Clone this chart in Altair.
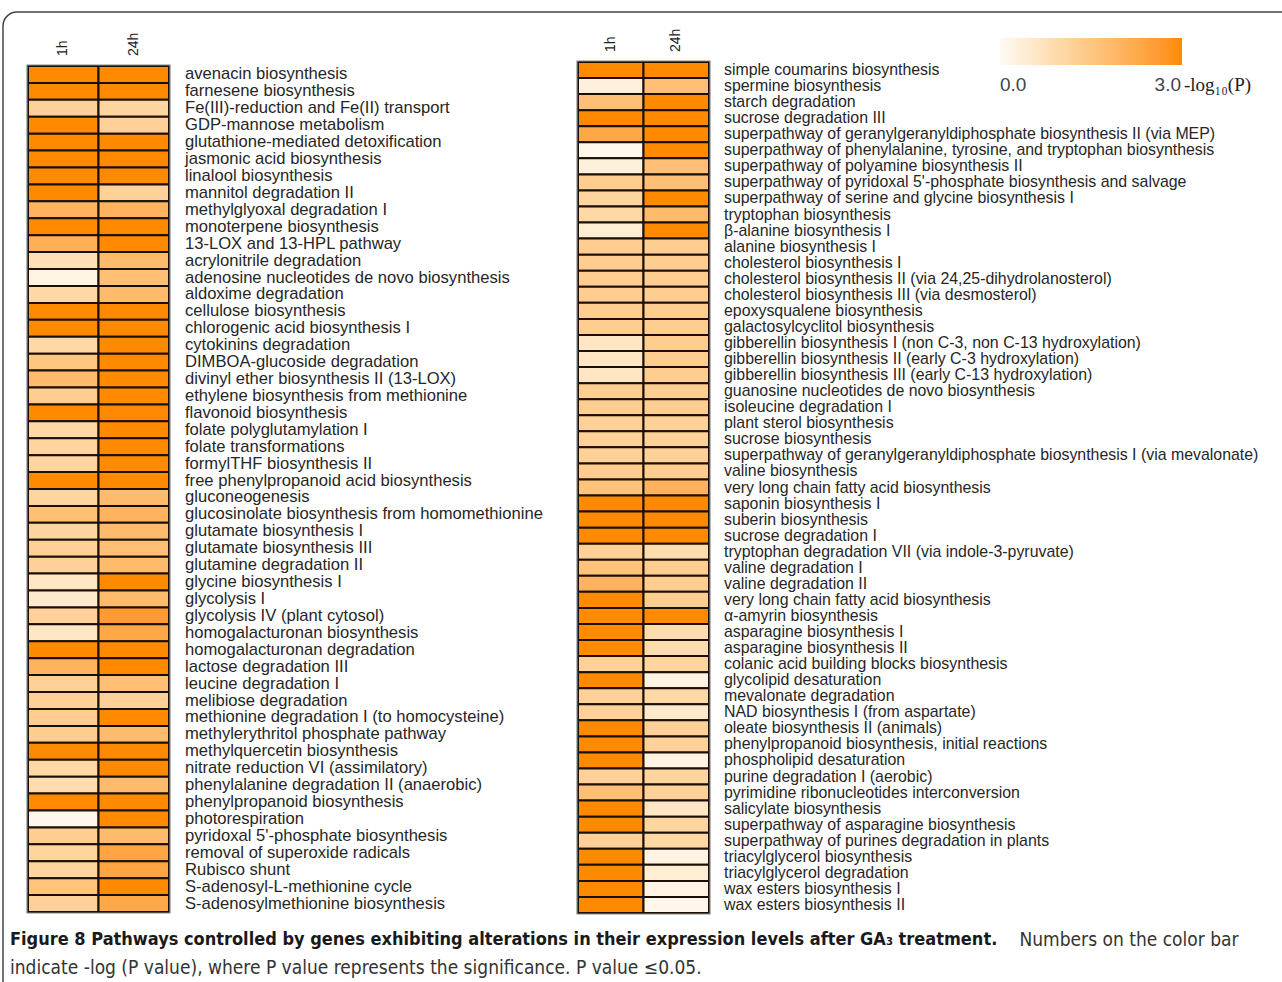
import altair as alt
import pandas as pd

# ---- pathway names and -log10(P) values (left panel) ----
left_pathways = [
    "avenacin biosynthesis", "farnesene biosynthesis", "Fe(III)-reduction and Fe(II) transport",
    "GDP-mannose metabolism", "glutathione-mediated detoxification", "jasmonic acid biosynthesis",
    "linalool biosynthesis", "mannitol degradation II", "methylglyoxal degradation I",
    "monoterpene biosynthesis", "13-LOX and 13-HPL pathway", "acrylonitrile degradation",
    "adenosine nucleotides de novo biosynthesis", "aldoxime degradation", "cellulose biosynthesis",
    "chlorogenic acid biosynthesis I", "cytokinins degradation", "DIMBOA-glucoside degradation",
    "divinyl ether biosynthesis II (13-LOX)", "ethylene biosynthesis from methionine",
    "flavonoid biosynthesis", "folate polyglutamylation I", "folate transformations",
    "formylTHF biosynthesis II", "free phenylpropanoid acid biosynthesis", "gluconeogenesis",
    "glucosinolate biosynthesis from homomethionine", "glutamate biosynthesis I",
    "glutamate biosynthesis III", "glutamine degradation II", "glycine biosynthesis I",
    "glycolysis I", "glycolysis IV (plant cytosol)", "homogalacturonan biosynthesis",
    "homogalacturonan degradation", "lactose degradation III", "leucine degradation I",
    "melibiose degradation", "methionine degradation I (to homocysteine)",
    "methylerythritol phosphate pathway", "methylquercetin biosynthesis",
    "nitrate reduction VI (assimilatory)", "phenylalanine degradation II (anaerobic)",
    "phenylpropanoid biosynthesis", "photorespiration", "pyridoxal 5'-phosphate biosynthesis",
    "removal of superoxide radicals", "Rubisco shunt", "S-adenosyl-L-methionine cycle",
    "S-adenosylmethionine biosynthesis",
]
left_1h = [
    3.0, 3.0, 1.2, 3.0, 3.0, 3.0, 3.0, 3.0, 2.0, 3.0,
    2.1, 0.8, 0.2, 1.0, 3.0, 3.0, 1.0, 1.5, 1.8, 1.3,
    3.0, 1.0, 1.1, 1.1, 3.0, 1.1, 1.7, 1.1, 1.2, 1.2,
    0.6, 0.5, 1.2, 0.6, 3.0, 2.0, 1.2, 1.2, 1.3, 1.3,
    3.0, 1.0, 0.9, 3.0, 0.1, 1.3, 1.1, 1.1, 1.6, 1.2,
]
left_24h = [
    3.0, 3.0, 1.1, 1.2, 3.0, 3.0, 3.0, 1.2, 2.0, 3.0,
    3.0, 1.8, 1.7, 1.8, 3.0, 3.0, 3.0, 3.0, 3.0, 3.0,
    3.0, 3.0, 3.0, 3.0, 3.0, 1.8, 2.0, 1.8, 1.7, 1.8,
    3.0, 1.8, 2.6, 2.3, 3.0, 3.0, 1.7, 1.2, 3.0, 1.8,
    3.0, 3.0, 1.8, 3.0, 3.0, 1.8, 2.4, 2.4, 3.0, 2.3,
]

# ---- right panel ----
right_pathways = [
    "simple coumarins biosynthesis", "spermine biosynthesis", "starch degradation",
    "sucrose degradation III",
    "superpathway of geranylgeranyldiphosphate biosynthesis II (via MEP)",
    "superpathway of phenylalanine, tyrosine, and tryptophan biosynthesis",
    "superpathway of polyamine biosynthesis II",
    "superpathway of pyridoxal 5'-phosphate biosynthesis and salvage",
    "superpathway of serine and glycine biosynthesis I", "tryptophan biosynthesis",
    "β-alanine biosynthesis I", "alanine biosynthesis I", "cholesterol biosynthesis I",
    "cholesterol biosynthesis II (via 24,25-dihydrolanosterol)",
    "cholesterol biosynthesis III (via desmosterol)", "epoxysqualene biosynthesis",
    "galactosylcyclitol biosynthesis",
    "gibberellin biosynthesis I (non C-3, non C-13 hydroxylation)",
    "gibberellin biosynthesis II (early C-3 hydroxylation)",
    "gibberellin biosynthesis III (early C-13 hydroxylation)",
    "guanosine nucleotides de novo biosynthesis", "isoleucine degradation I",
    "plant sterol biosynthesis", "sucrose biosynthesis",
    "superpathway of geranylgeranyldiphosphate biosynthesis I (via mevalonate)",
    "valine biosynthesis", "very long chain fatty acid biosynthesis", "saponin biosynthesis I",
    "suberin biosynthesis", "sucrose degradation I",
    "tryptophan degradation VII (via indole-3-pyruvate)", "valine degradation I",
    "valine degradation II", "very long chain fatty acid biosynthesis", "α-amyrin biosynthesis",
    "asparagine biosynthesis I", "asparagine biosynthesis II",
    "colanic acid building blocks biosynthesis", "glycolipid desaturation",
    "mevalonate degradation", "NAD biosynthesis I (from aspartate)",
    "oleate biosynthesis II (animals)", "phenylpropanoid biosynthesis, initial reactions",
    "phospholipid desaturation", "purine degradation I (aerobic)",
    "pyrimidine ribonucleotides interconversion", "salicylate biosynthesis",
    "superpathway of asparagine biosynthesis", "superpathway of purines degradation in plants",
    "triacylglycerol biosynthesis", "triacylglycerol degradation", "wax esters biosynthesis I",
    "wax esters biosynthesis II",
]
right_1h = [
    3.0, 0.3, 1.7, 3.0, 2.3, 0.1, 0.3, 1.3, 1.1, 1.0,
    0.4, 1.3, 1.3, 1.3, 1.3, 1.3, 1.3, 0.6, 0.6, 0.6,
    1.3, 1.3, 1.2, 1.2, 1.2, 1.3, 1.6, 3.0, 3.0, 3.0,
    1.2, 1.6, 2.0, 3.0, 3.0, 3.0, 3.0, 1.2, 3.0, 1.2,
    1.2, 3.0, 3.0, 3.0, 1.2, 1.7, 3.0, 3.0, 1.2, 3.0,
    3.0, 3.0, 3.0,
]
right_24h = [
    3.0, 1.7, 3.0, 3.0, 3.0, 3.0, 1.7, 1.7, 3.0, 1.8,
    3.0, 1.3, 1.3, 1.3, 1.3, 1.3, 1.3, 1.3, 1.3, 1.3,
    1.3, 1.3, 1.2, 1.2, 1.2, 1.3, 2.0, 3.0, 3.0, 3.0,
    0.9, 1.3, 1.3, 1.3, 3.0, 0.9, 0.9, 1.1, 0.2, 1.0,
    0.5, 1.2, 1.2, 0.2, 1.1, 1.2, 0.6, 1.1, 1.0, 0.2,
    0.4, 0.2, 0.1,
]

times = ["1h", "24h"]
legend_ends = ["0.0", "3.0"]

SANS = "Liberation Sans, Arial, sans-serif"
NARROW = "Liberation Sans Narrow, DejaVu Sans Condensed, sans-serif"
SERIF = "Liberation Serif, DejaVu Serif, serif"


def long_table(names, v1, v24):
    rows = []
    for i, name in enumerate(names):
        rows.append({"row": i, "pathway": name, "time": "1h", "value": v1[i]})
        rows.append({"row": i, "pathway": name, "time": "24h", "value": v24[i]})
    return pd.DataFrame(rows)


color_scale = alt.Scale(domain=[0, 3], range=["#FFFAF3", "#FF8A00"], type="linear")


def panel(names, v1, v24, x_range, y_range, label_x, label_size):
    df = long_table(names, v1, v24)
    labels = pd.DataFrame({"row": list(range(len(names))), "pathway": names})
    heads = pd.DataFrame({"time": times})
    xs = alt.Scale(domain=times, range=x_range, paddingInner=0, paddingOuter=0)
    ys = alt.Scale(domain=list(range(len(names))), range=y_range,
                   paddingInner=0, paddingOuter=0)

    cells = alt.Chart(df).mark_rect(stroke="#1a0f05", strokeWidth=2).encode(
        x=alt.X("time:N", scale=xs, axis=None),
        y=alt.Y("row:O", scale=ys, axis=None),
        color=alt.Color("value:Q", scale=color_scale, title=None,
                        legend=alt.Legend(values=[0, 3], labelExpr="''")),
    )
    outline = alt.Chart(pd.DataFrame({"k": [0]})).mark_rect(
        fill="transparent", stroke="#8a8a8a", strokeWidth=1.2
    ).encode(
        x=alt.value(x_range[0] - 1), x2=alt.value(x_range[1] + 1),
        y=alt.value(y_range[0] - 1), y2=alt.value(y_range[1] + 1),
    )
    names_txt = alt.Chart(labels).mark_text(
        align="left", baseline="middle", font=SANS, fontSize=label_size, color="#262626"
    ).encode(
        x=alt.value(label_x),
        y=alt.Y("row:O", scale=ys, axis=None),
        text="pathway:N",
    )
    head_txt = alt.Chart(heads).mark_text(
        align="left", baseline="middle", angle=270, font=SANS, fontSize=14, color="#222222"
    ).encode(
        x=alt.X("time:N", scale=xs, axis=None),
        y=alt.value(y_range[0] - 10),
        text="time:N",
    )
    return [cells, outline, names_txt, head_txt]


left_layers = panel(left_pathways, left_1h, left_24h, [28, 169], [66, 912], 185, 16.6)
right_layers = panel(right_pathways, right_1h, right_24h, [578, 709], [62, 913], 724, 15.9)

one = pd.DataFrame({"k": [0]})

frame = alt.Chart(one).mark_rect(
    fill="transparent", stroke="#444444", strokeWidth=1.5, cornerRadius=14
).encode(x=alt.value(3), x2=alt.value(1310), y=alt.value(12), y2=alt.value(1020))

# colour-bar end labels and unit
legend_lo = alt.Chart(one).mark_text(
    align="left", baseline="middle", font=SANS, fontSize=19, color="#444444"
).encode(x=alt.value(1000), y=alt.value(85), text=alt.value(legend_ends[0]))
legend_hi = alt.Chart(one).mark_text(
    align="right", baseline="middle", font=SANS, fontSize=19, color="#444444"
).encode(x=alt.value(1181), y=alt.value(85), text=alt.value(legend_ends[1]))
legend_unit = alt.Chart(one).mark_text(
    align="left", baseline="middle", font=SERIF, fontSize=19, color="#222222"
).encode(x=alt.value(1184), y=alt.value(85), text=alt.value("-log₁₀(P)"))

caption_bold = alt.Chart(one).mark_text(
    align="left", baseline="middle", font=NARROW, fontSize=18, fontWeight="bold",
    color="#1a1a1a"
).encode(
    x=alt.value(10), y=alt.value(940),
    text=alt.value("Figure 8 Pathways controlled by genes exhibiting alterations in their "
                   "expression levels after GA₃ treatment."),
)
caption_rest = alt.Chart(one).mark_text(
    align="center", baseline="middle", font=NARROW, fontSize=19, color="#333333"
).encode(
    x=alt.value(1129), y=alt.value(940),
    text=alt.value("Numbers on the color bar"),
)
caption_line2 = alt.Chart(one).mark_text(
    align="left", baseline="middle", font=NARROW, fontSize=19, color="#333333"
).encode(
    x=alt.value(10), y=alt.value(968),
    text=alt.value("indicate -log (P value), where P value represents the significance. "
                   "P value ≤0.05."),
)

chart = alt.layer(
    frame, *left_layers, *right_layers, legend_lo, legend_hi, legend_unit,
    caption_bold, caption_rest, caption_line2
).resolve_scale(
    x="independent", y="independent", color="shared"
).properties(
    width=1282, height=982, padding=0, autosize=alt.AutoSizeParams(type="none"),
    background="white",
).configure_view(
    stroke=None
).configure_legend(
    orient="none", legendX=1000, legendY=38, direction="horizontal",
    gradientLength=182, gradientThickness=27, gradientStrokeWidth=0,
)

chart.save("out.html", embed_options={"renderer": "svg", "actions": False})
